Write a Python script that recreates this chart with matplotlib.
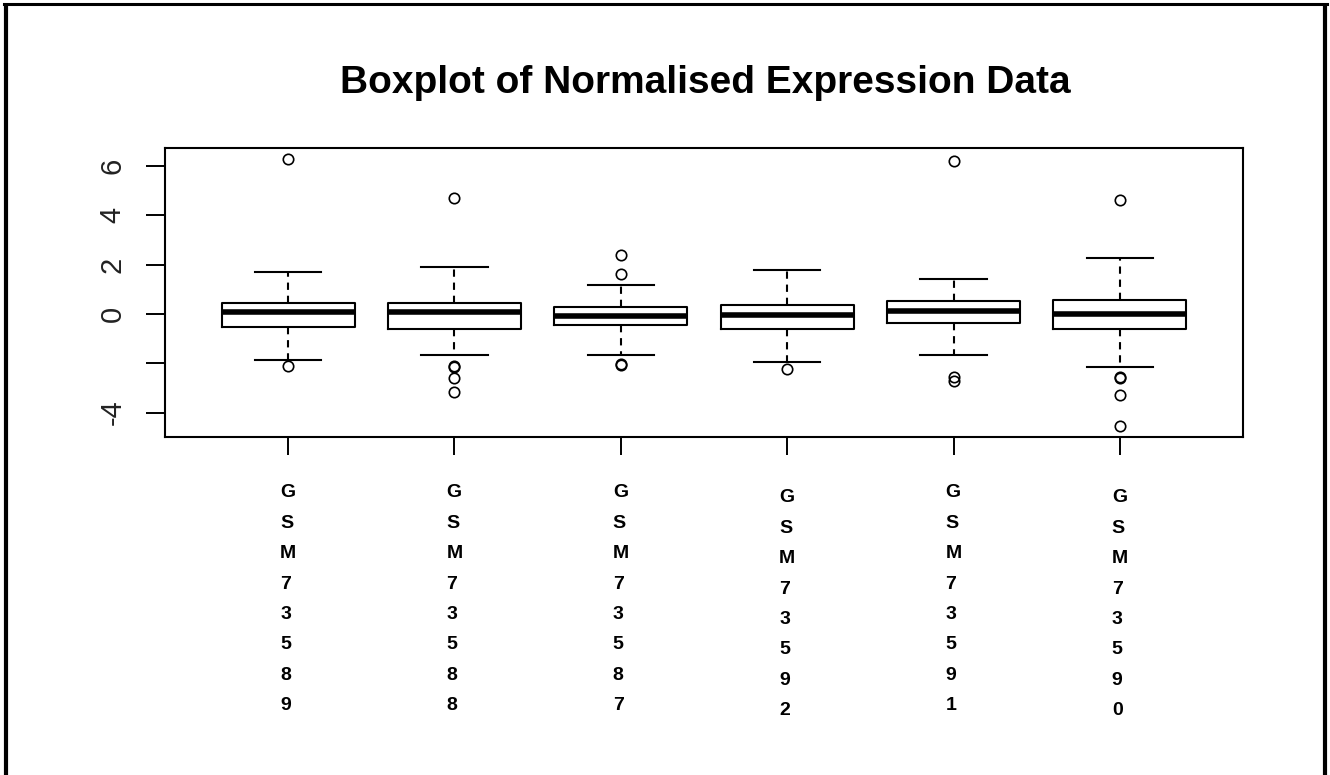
import numpy as np
import matplotlib.pyplot as plt
from matplotlib.lines import Line2D
from matplotlib.transforms import blended_transform_factory, ScaledTranslation

plt.rcParams['font.family'] = ['Liberation Sans', 'DejaVu Sans']

# =========================
# data
# =========================
sample_labels = ["GSM735" + s for s in ["89", "88", "87", "92", "91", "90"]]

whisker_low = [-1.86, -1.66, -1.66, -1.94, -1.66, -2.17]
q1 = [-0.53, -0.61, -0.46, -0.61, -0.37, -0.61]
median = [0.08, 0.08, -0.07, -0.05, 0.14, 0.01]
q3 = [0.45, 0.45, 0.28, 0.38, 0.53, 0.58]
whisker_high = [1.71, 1.90, 1.19, 1.79, 1.42, 2.25]
outliers = [
    [6.28, -2.10],
    [4.69, -2.10, -2.16, -2.61, -3.15],
    [2.39, 1.64, -2.04, -2.09],
    [-2.24],
    [6.19, -2.56, -2.70],
    [4.63, -2.54, -2.61, -3.30, -4.55],
]

ytick_values = [-4, -2, 0, 2, 4, 6]
ytick_labels = ["-4", "", "0", "2", "4", "6"]

title = "Boxplot of Normalised Expression Data"

# =========================
# figure
# =========================
fig = plt.figure(figsize=(13.3, 7.75), dpi=100)
ax = fig.add_axes([165 / 1330, 1 - 437 / 775, (1243 - 165) / 1330, (437 - 148) / 775])

stats = []
for i in range(len(sample_labels)):
    stats.append(dict(med=median[i], q1=q1[i], q3=q3[i],
                      whislo=whisker_low[i], whishi=whisker_high[i],
                      fliers=outliers[i]))

lw = 1.5
ax.bxp(stats, positions=np.arange(1, len(stats) + 1), widths=0.8,
       showfliers=True,
       boxprops=dict(color="black", linewidth=lw),
       medianprops=dict(color="black", linewidth=4.0, solid_capstyle="butt"),
       whiskerprops=dict(color="black", linewidth=lw, linestyle=(0, (3.5, 2.8))),
       capprops=dict(color="black", linewidth=lw),
       capwidths=0.4,
       flierprops=dict(marker="o", markerfacecolor="none", markeredgecolor="black",
                       markersize=7.5, markeredgewidth=1.2, linestyle="none"))

ax.set_xlim(0.26, 6.74)
ax.set_ylim(-4.99, 6.73)

for sp in ax.spines.values():
    sp.set_linewidth(1.5)

ax.set_yticks(ytick_values)
ax.set_yticklabels(ytick_labels, rotation=90, va="center", fontsize=21, color="#222222")
ax.tick_params(axis="y", length=13.5, width=1.4, pad=14)

ax.set_xticks(np.arange(1, len(stats) + 1))
ax.set_xticklabels([])
ax.tick_params(axis="x", length=13, width=1.4)

# vertical stacked labels under each box
trans = blended_transform_factory(ax.transData, ax.transAxes)
label_drop = [0, 0, 0, 5, 0, 5]  # px, a couple of labels sit slightly lower
for i, name in enumerate(sample_labels):
    off = ScaledTranslation(0, -label_drop[i] / 100, fig.dpi_scale_trans)
    ax.text(i + 1, -0.164, "\n".join(name), transform=trans + off,
            ha="center", va="top", multialignment="left",
            fontsize=14, fontweight="bold", linespacing=2.03)

fig.text(705 / 1330, 1 - 83 / 775, title, ha="center", va="center",
         fontsize=28, fontweight="bold")

# outer frame of the screenshot (no bottom edge)
fig.add_artist(Line2D([6 / 1330, 6 / 1330], [0, 1 - 3 / 775], transform=fig.transFigure,
                      color="black", linewidth=3.0, solid_capstyle="butt"))
fig.add_artist(Line2D([4 / 1330, 1327 / 1330], [1 - 3.5 / 775, 1 - 3.5 / 775],
                      transform=fig.transFigure, color="black", linewidth=2.2))
fig.add_artist(Line2D([1325 / 1330, 1325 / 1330], [0, 1 - 3 / 775], transform=fig.transFigure,
                      color="black", linewidth=3.0, solid_capstyle="butt"))

fig.savefig("out.png", dpi=100)
